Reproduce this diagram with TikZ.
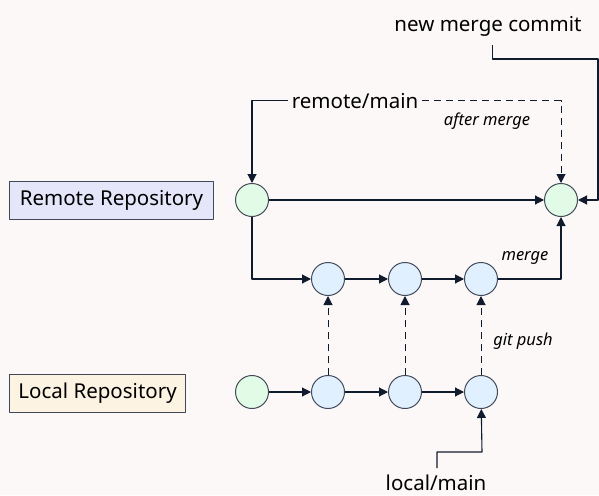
\documentclass[tikz,border=0pt]{standalone}
\usepackage{fontspec}
\setmainfont{Noto Sans}
\usetikzlibrary{arrows.meta,positioning}
\definecolor{bgc}{HTML}{FDF8F8}
\definecolor{linec}{HTML}{111B2E}
\definecolor{greenc}{HTML}{E2FBE6}
\definecolor{bluec}{HTML}{E1F0FE}
\definecolor{remotec}{HTML}{E6E6FA}
\definecolor{localc}{HTML}{FDF3E3}
\begin{document}
\begin{tikzpicture}[x=1pt,y=-1pt,>={Triangle[length=9pt,width=9pt]},line join=round,
	commit/.style={circle,draw=linec!80,line width=1pt,minimum size=33pt,inner sep=0pt},
	repo/.style={draw=linec!80,line width=1pt,minimum height=38pt,inner sep=0pt,font=\fontsize{20.5}{24}\selectfont},
	lbl/.style={inner sep=0pt,anchor=base,font=\fontsize{20.5}{24}\selectfont},
	note/.style={inner sep=0pt,anchor=base,font=\itshape\fontsize{16.5}{20}\selectfont},
	link/.style={draw=linec,line width=1.1pt},
	later/.style={dash pattern=on 7pt off 5pt,line width=1pt}]
	\def\rowR{200} % remote row
	\def\rowP{279} % pushed commits
	\def\rowL{392} % local row
	\fill[bgc] (0,0) rectangle (599,495);
	\useasboundingbox (0,0) rectangle (599,495);
	% repositories
	\node[repo,fill=remotec,minimum width=204pt] (remote) at (111.5,\rowR) {Remote Repository};
	\node[repo,fill=localc,minimum width=176pt] (local) at (97.6,393) {Local Repository};
	% commits
	\node[commit,fill=greenc] (r0) at (252,\rowR) {};
	\node[commit,fill=greenc] (rm) at (561,\rowR) {};
	\node[commit,fill=greenc] (l0) at (252,\rowL) {};
	\foreach \i/\x in {1/328,2/405,3/481}{
		\node[commit,fill=bluec] (p\i) at (\x,\rowP) {};
		\node[commit,fill=bluec] (l\i) at (\x,\rowL) {};
	}
	% labels
	\node[lbl] (nmc) at (488,32) {new merge commit};
	\node[lbl,inner xsep=4pt] (rmain) at (355,108) {remote/main};
	\node[lbl] (lmain) at (436,490) {local/main};
	\node[note] at (487,125) {after merge};
	\node[note] at (525,260) {merge};
	\node[note] at (523,345) {git push};
	\coordinate (nmcfoot) at (492.5,45);
	\coordinate (lmfoot) at (437,468);
	\begin{scope}[link]
	\draw[->] (nmcfoot) |- (598,59) |- (rm);
	\draw[->] (rmain.west) -| (r0);
	\draw[->,later] (rmain.east) -| (rm);
	\draw[->] (r0) -- (rm);
	\draw[->] (r0) |- (p1);
	\draw[->] (p1) -- (p2);
	\draw[->] (p2) -- (p3);
	\draw[->] (p3) -| (rm);
	\draw[->] (l0) -- (l1);
	\draw[->] (l1) -- (l2);
	\draw[->] (l2) -- (l3);
	\foreach \i in {1,2,3}
	\draw[->,later] (l\i) -- (p\i);
	\draw[->] (lmfoot) |- (482,452) -- (l3);
	\end{scope}
\end{tikzpicture}
\end{document}
